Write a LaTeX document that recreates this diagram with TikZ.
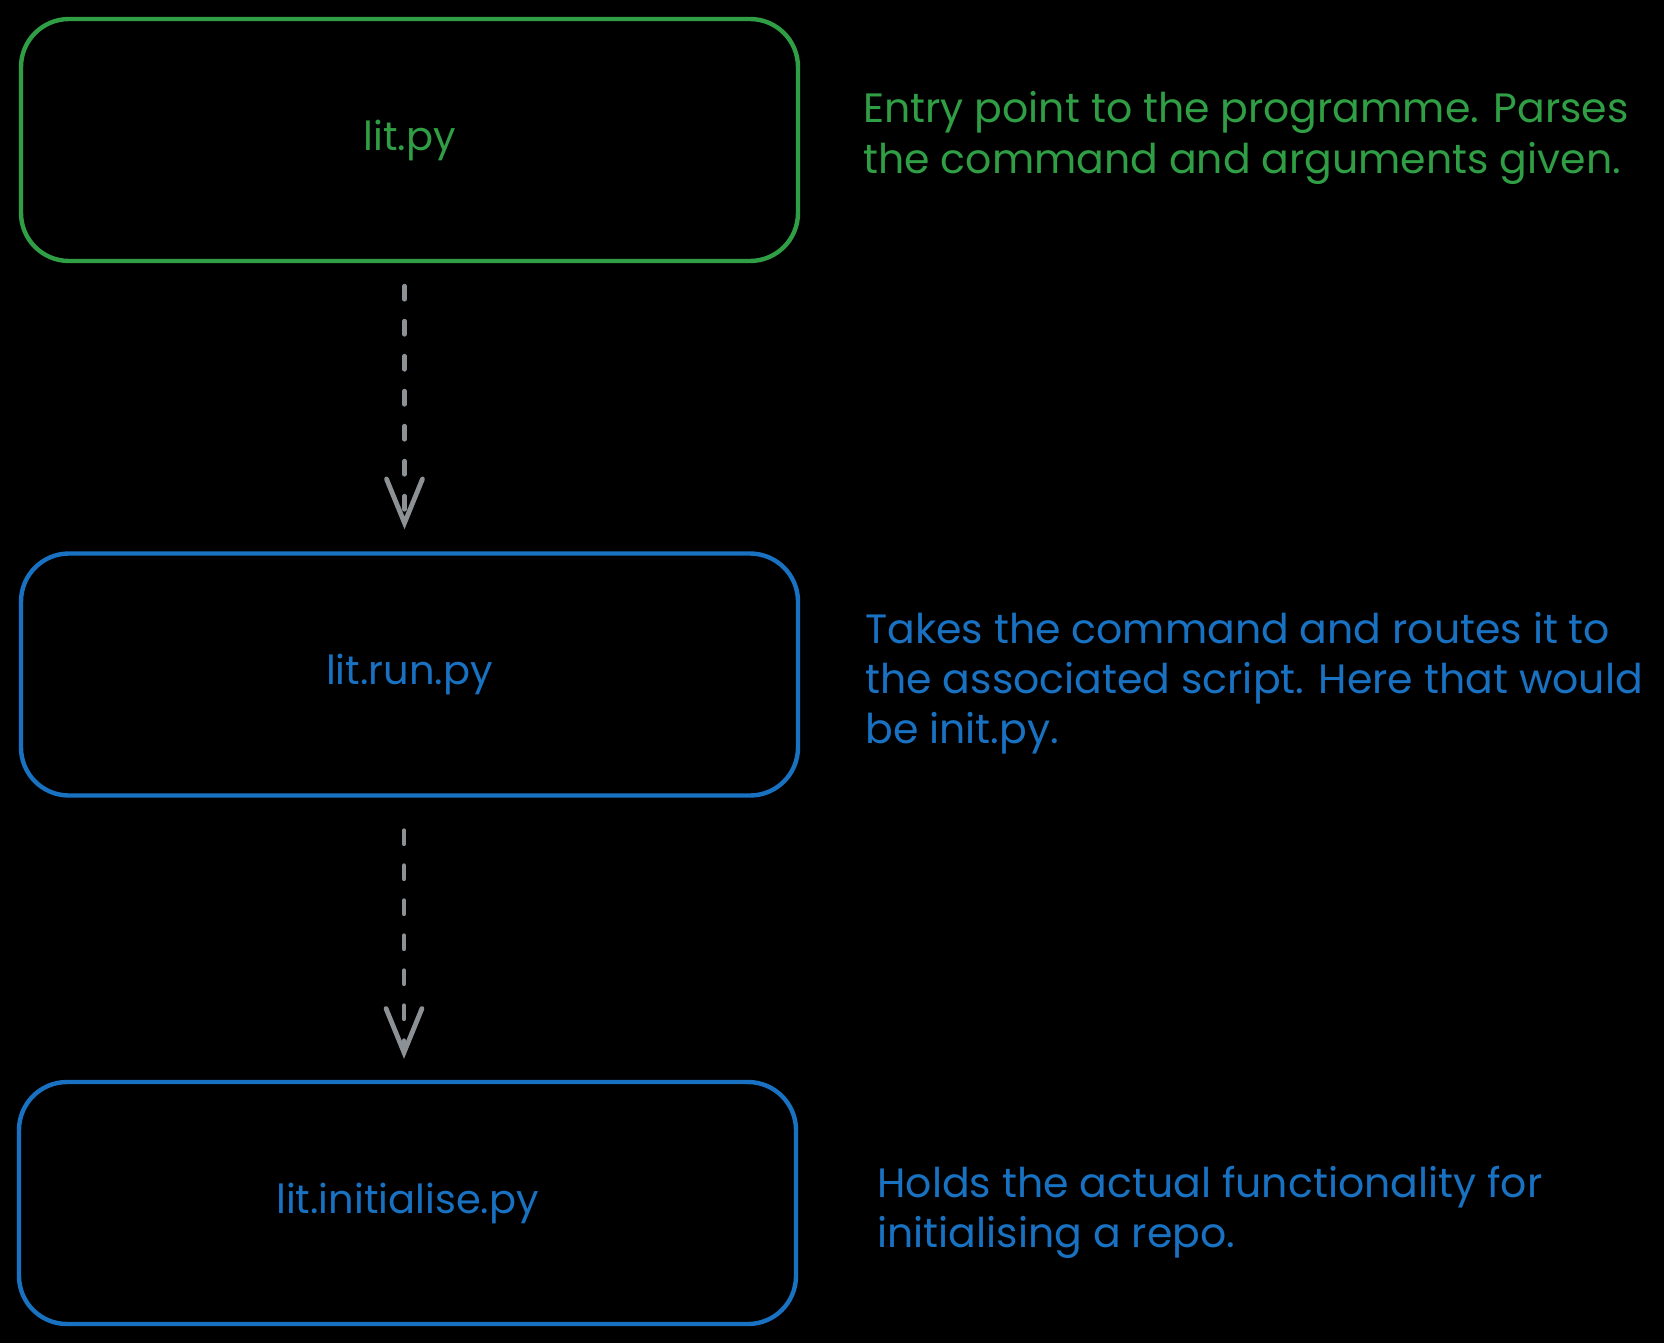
\documentclass[tikz,border=0pt]{standalone}
\usepackage{fontspec}
\setmainfont{Poppins}
\usetikzlibrary{arrows.meta}
\definecolor{exgreen}{HTML}{2F9E44}
\definecolor{exblue}{HTML}{1971C2}
\definecolor{exgray}{HTML}{8C9196}
\begin{document}
\begin{tikzpicture}[x=0.5pt,y=-0.5pt,
  box/.style={draw, line width=2.2pt, rounded corners=24pt, minimum width=388.5pt,
    minimum height=121pt, inner sep=0pt, font=\fontsize{20}{24}\selectfont},
  desc/.style={anchor=base west, align=left, inner sep=0pt,
    font=\fontsize{20.5}{25}\selectfont},
  flow/.style={draw=exgray, line width=2.4pt, dash pattern=on 6.5pt off 11pt, line cap=round,
    -{Straight Barb[length=22pt,width=18pt,line cap=round]}}
]
\fill[black] (0,0) rectangle (1664,1343);
\node[box, draw=exgreen, text=exgreen] (main) at (409.5,140) {lit.py};
\node[box, draw=exblue, text=exblue] (run) at (409.5,674.5) {lit.run.py};
\node[box, draw=exblue, text=exblue] (init) at (407.5,1203) {lit.initialise.py};
\node[desc, text=exgreen] (d1) at (863,173) {Entry point to the programme. Parses\\the command and arguments given.};
\node[desc, text=exblue] (d2) at (865,743) {Takes the command and routes it to\\the associated script. Here that would\\be init.py.};
\node[desc, text=exblue] (d3) at (877,1247) {Holds the actual functionality for\\initialising a repo.};
\draw[flow, shorten <=11.5pt, shorten >=11pt] ([xshift=-2.5pt]main.south) -- ([xshift=-2.5pt]run.north);
\draw[flow, shorten <=16.5pt, shorten >=10.5pt] ([xshift=-2.75pt]run.south) -- ([xshift=-1.75pt]init.north);
\end{tikzpicture}
\end{document}
